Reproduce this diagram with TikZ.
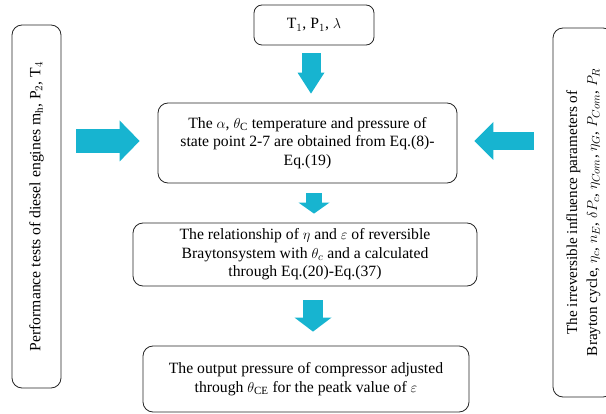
\documentclass[tikz,border=0pt]{standalone}
\usepackage{fontspec}
\usepackage{graphicx}
\setmainfont{Liberation Serif}
\usetikzlibrary{arrows.meta}
\definecolor{arrowcyan}{RGB}{23,180,208}

\begin{document}
\begin{tikzpicture}[x=1pt, y=1pt,
  every node/.style={font=\fontsize{15.7}{18.5}\selectfont},
  box/.style={draw=black!85, line width=0.8pt, rounded corners=10pt, align=center, inner sep=0pt},
  sidebox/.style={draw=black!85, line width=0.8pt, rounded corners=10pt, inner sep=0pt},
  blockarrow/.style n args={3}{draw=arrowcyan, line width=#1, -{Triangle[width=#2, length=#3, line width=0pt]}}]

  % --- frame of the picture ---
  \useasboundingbox (0,0) rectangle (606,413);
  \clip (0,0) rectangle (606,413);

  % --- height of the side arrows ---
  \def\yside{272}

  % ============================================================
  % Central column
  % ============================================================
  \node[box, rounded corners=8pt, minimum width=120pt, minimum height=40pt] (inp) at (314,388)
    {T$_1$, P$_1$, $\lambda$};
  \node[box, minimum width=299pt, minimum height=80pt] (state) at (307.5,270)
    {The $\alpha$, $\theta_{\mathrm{C}}$ temperature and pressure of\\
     state point 2-7 are obtained from Eq.(8)-\\ Eq.(19)};
  \node[box, minimum width=344pt, minimum height=63pt] (relat) at (305,158.5)
    {The relationship of $\eta$ and $\varepsilon$ of reversible\\
     Braytonsystem with $\theta_c$ and a calculated\\ through Eq.(20)-Eq.(37)};
  \node[box, minimum width=326pt, minimum height=66pt] (outp) at (306,34)
    {The output pressure of compressor adjusted\\
     through $\theta_{\mathrm{CE}}$ for the peatk value of $\varepsilon$};

  % ============================================================
  % Side boxes (text turned upwards)
  % ============================================================
  \node[sidebox, minimum width=49pt, minimum height=363pt] (perf) at (36.5,206.5)
    {\rotatebox{90}{Performance tests of diesel engines m$_\mathrm{h}$, P$_2$, T$_4$}};
  \node[sidebox, minimum width=60pt, minimum height=369pt, font=\fontsize{15.2}{20}\selectfont]
    (irrev) at (583,200.5)
    {\rotatebox{90}{\begin{tabular}{@{}c@{}}
      The irreversible influence parameters of\\
      Brayton cycle, $\eta_c$, $n_E$, $\delta P_c$, $\eta_{Com}$, $\eta_G$, $P_{Com}$, $P_R$
     \end{tabular}}};

  % ============================================================
  % Block arrows
  % ============================================================
  \draw[blockarrow={19pt}{27pt}{21pt}, shorten <=8pt, shorten >=9pt]
    ([xshift=-3pt]inp.south) -- ([xshift=3.5pt]state.north);
  \draw[blockarrow={16pt}{31pt}{11pt}, shorten <=10pt, shorten >=9pt]
    ([xshift=6.5pt]state.south) -- ([xshift=9pt]relat.north);
  \draw[blockarrow={20pt}{37pt}{14pt}, shorten <=14pt, shorten >=14pt]
    ([xshift=8pt]relat.south) -- ([xshift=7pt]outp.north);

  \draw[blockarrow={24pt}{41pt}{20pt}, shorten <=15pt, shorten >=18pt]
    (perf.east |- 0,\yside) -- (state.west |- 0,\yside);
  \draw[blockarrow={18pt}{38pt}{19pt}, shorten <=19pt, shorten >=17pt]
    (irrev.west |- 0,\yside) -- (state.east |- 0,\yside);

\end{tikzpicture}
\end{document}
